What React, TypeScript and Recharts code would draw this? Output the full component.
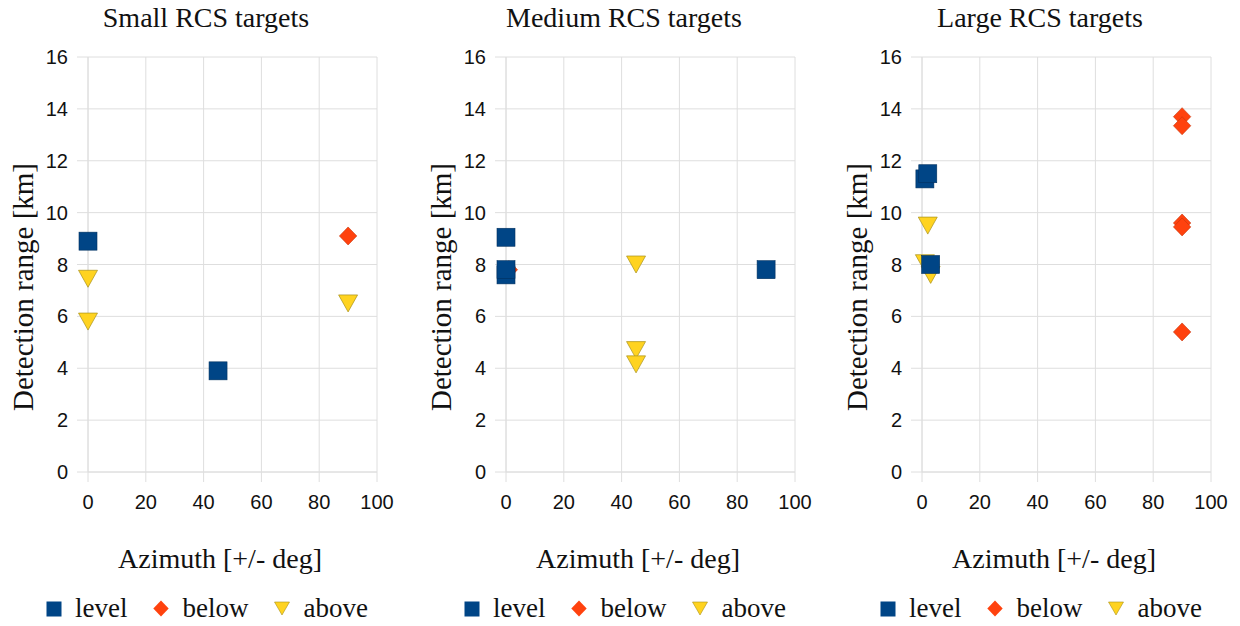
import React from "react";
import { ScatterChart, Scatter, XAxis, YAxis, CartesianGrid, Legend } from "recharts";

// [azimuth deg, detection range km]
const SMALL_LEVEL = [[0, 8.9], [45, 3.9]];
const SMALL_BELOW = [[90, 9.1]];
const SMALL_ABOVE = [[0, 7.45], [0, 5.8], [90, 6.5]];

const MEDIUM_LEVEL = [[0, 9.05], [0, 7.6], [0, 7.8], [90, 7.8]];
const MEDIUM_BELOW = [[1, 7.8]];
const MEDIUM_ABOVE = [[45, 8.0], [45, 4.7], [45, 4.15]];

const LARGE_LEVEL = [[1, 11.3], [2, 11.5], [3, 8.0]];
const LARGE_BELOW = [[90, 13.7], [90, 13.35], [90, 9.6], [90, 9.45], [90, 5.4]];
const LARGE_ABOVE = [[2, 9.5], [1, 8.05], [3, 7.6]];

const X_TICKS = [0, 20, 40, 60, 80, 100];
const Y_TICKS = [0, 2, 4, 6, 8, 10, 12, 14, 16];
const SERIES_ORDER = ["level", "below", "above"];

const BLUE = "#004586";
const RED = "#ff420e";
const YELLOW = "#ffd320";
const GRID = "#dedede";
const SERIF = "'Liberation Serif', 'Times New Roman', serif";
const SANS = "'Liberation Sans', Arial, sans-serif";

const toPoints = (arr: number[][]) => arr.map(([az, km]) => ({ az, km }));

const SquareMark = (p: any) => (
  <rect x={p.cx - 9} y={p.cy - 9} width={18} height={18} fill={BLUE} stroke="#00315f" strokeWidth={0.6} />
);
const DiamondMark = (p: any) => (
  <polygon
    points={`${p.cx},${p.cy - 9} ${p.cx + 8.7},${p.cy} ${p.cx},${p.cy + 9} ${p.cx - 8.7},${p.cy}`}
    fill={RED}
    stroke="#c8360c"
    strokeWidth={0.6}
  />
);
const TriangleMark = (p: any) => (
  <polygon
    points={`${p.cx - 9.5},${p.cy - 8.5} ${p.cx + 9.5},${p.cy - 8.5} ${p.cx},${p.cy + 8.5}`}
    fill={YELLOW}
    stroke="#a8901a"
    strokeWidth={0.7}
  />
);

function LegendIcon({ name }: { name: string }) {
  if (name === "level")
    return (
      <svg width={16} height={16} style={{ marginRight: 13 }}>
        <rect x={0.5} y={0.5} width={15} height={15} fill={BLUE} />
      </svg>
    );
  if (name === "below")
    return (
      <svg width={16} height={17} style={{ marginRight: 13 }}>
        <polygon points="8,0.5 15.7,8.5 8,16.5 0.3,8.5" fill={RED} />
      </svg>
    );
  return (
    <svg width={16} height={16} style={{ marginRight: 13 }}>
      <polygon points="0.5,1 15.5,1 8,14" fill={YELLOW} stroke="#a8901a" strokeWidth={0.6} />
    </svg>
  );
}

function LegendContent(props: any) {
  const items = [...(props.payload || [])].sort(
    (a: any, b: any) => SERIES_ORDER.indexOf(a.value) - SERIES_ORDER.indexOf(b.value)
  );
  return (
    <div style={{ display: "flex", alignItems: "center", fontFamily: SERIF, fontSize: 27, lineHeight: 1, color: "#111" }}>
      {items.map((it: any) => (
        <div key={it.value} style={{ display: "flex", alignItems: "center", marginRight: 26 }}>
          <LegendIcon name={it.value} />
          <span>{it.value}</span>
        </div>
      ))}
    </div>
  );
}

function Panel({
  title,
  level,
  below,
  above,
  left,
}: {
  title: string;
  level: number[][];
  below: number[][];
  above: number[][];
  left: number;
}) {
  return (
    <div style={{ position: "absolute", left, top: 0, width: 417, height: 626 }}>
      <ScatterChart width={417} height={626} margin={{ top: 57, right: 40, bottom: 94, left: 28 }}>
        <CartesianGrid stroke={GRID} />
        <XAxis
          type="number"
          dataKey="az"
          domain={[0, 100]}
          ticks={X_TICKS}
          height={60}
          tickSize={10}
          tickMargin={13}
          axisLine={{ stroke: GRID }}
          tickLine={{ stroke: GRID }}
          tick={{ fontSize: 20, fontFamily: SANS, fill: "#111" }}
        />
        <YAxis
          type="number"
          dataKey="km"
          domain={[0, 16]}
          ticks={Y_TICKS}
          width={60}
          tickSize={11}
          tickMargin={9}
          axisLine={{ stroke: GRID }}
          tickLine={{ stroke: GRID }}
          tick={{ fontSize: 20, fontFamily: SANS, fill: "#111" }}
        />
        <Legend
          layout="horizontal"
          verticalAlign="middle"
          align="center"
          content={<LegendContent />}
          wrapperStyle={{ left: 46, top: 595, width: 380, height: 28 }}
        />
        <Scatter name="below" data={toPoints(below)} fill={RED} shape={DiamondMark} isAnimationActive={false} />
        <Scatter name="above" data={toPoints(above)} fill={YELLOW} shape={TriangleMark} isAnimationActive={false} />
        <Scatter name="level" data={toPoints(level)} fill={BLUE} shape={SquareMark} isAnimationActive={false} />
      </ScatterChart>
      <svg
        width={417}
        height={626}
        style={{ position: "absolute", left: 0, top: 0, pointerEvents: "none" }}
        fontFamily={SERIF}
        fill="#111"
      >
        <text x={206} y={27} textAnchor="middle" fontSize={28}>{title}</text>
        <text x={220} y={568} textAnchor="middle" fontSize={28}>Azimuth [+/- deg]</text>
        <text transform="translate(33,287) rotate(-90)" textAnchor="middle" fontSize={29}>
          Detection range [km]
        </text>
      </svg>
    </div>
  );
}

export default function App() {
  return (
    <div style={{ position: "absolute", left: 0, top: 0, width: 1240, height: 626, background: "#fff" }}>
      <Panel title="Small RCS targets" level={SMALL_LEVEL} below={SMALL_BELOW} above={SMALL_ABOVE} left={0} />
      <Panel title="Medium RCS targets" level={MEDIUM_LEVEL} below={MEDIUM_BELOW} above={MEDIUM_ABOVE} left={418} />
      <Panel title="Large RCS targets" level={LARGE_LEVEL} below={LARGE_BELOW} above={LARGE_ABOVE} left={834} />
    </div>
  );
}
